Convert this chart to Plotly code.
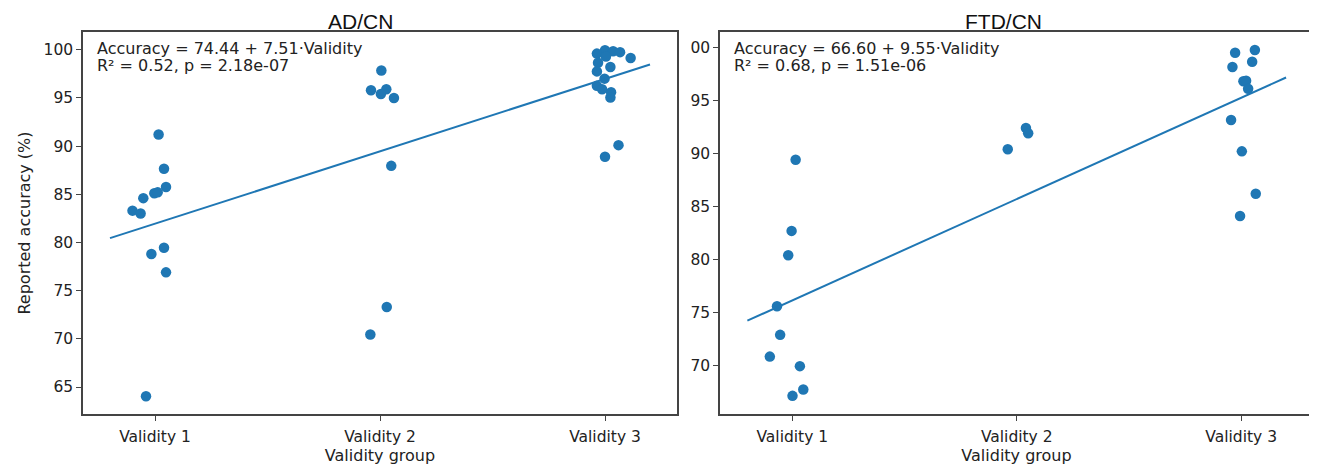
import plotly.graph_objects as go

# ---------------- data ----------------
groups = [1, 2, 3]
group_labels = ["Validity 1", "Validity 2", "Validity 3"]

# AD/CN
ad_v1 = [91.2, 87.65, 85.75, 85.1, 85.2, 84.6, 83.3, 83.0, 79.45, 78.8, 76.9, 64.05]
ad_v1_jit = [0.016, 0.040, 0.049, -0.003, 0.012, -0.052, -0.100, -0.064, 0.040, -0.016, 0.049, -0.040]
ad_v2 = [97.85, 95.8, 95.9, 95.4, 95.0, 87.95, 73.3, 70.45]
ad_v2_jit = [0.006, -0.040, 0.028, 0.004, 0.062, 0.050, 0.030, -0.043]
ad_v3 = [99.95, 99.6, 99.85, 99.75, 99.15, 98.65, 98.2, 97.75, 97.0, 96.25, 95.9, 95.6, 95.05, 99.3, 88.9, 90.1]
ad_v3_jit = [0.000, -0.036, 0.036, 0.067, 0.114, -0.031, 0.024, -0.036, -0.002, -0.036, -0.013, 0.027, 0.024, 0.004, 0.000, 0.060]
ad_intercept, ad_slope = 74.44, 7.51

# FTD/CN
ftd_v1 = [89.4, 82.7, 80.4, 75.6, 72.9, 70.85, 69.95, 67.75, 67.15]
ftd_v1_jit = [0.015, -0.003, -0.018, -0.068, -0.054, -0.100, 0.034, 0.049, 0.001]
ftd_v2 = [90.4, 92.4, 91.9]
ftd_v2_jit = [-0.040, 0.041, 0.051]
ftd_v3 = [99.5, 99.75, 98.15, 98.65, 96.8, 96.85, 96.1, 93.15, 90.2, 86.2, 84.1]
ftd_v3_jit = [-0.027, 0.061, -0.039, 0.049, 0.010, 0.022, 0.031, -0.045, 0.003, 0.065, -0.005]
ftd_intercept, ftd_slope = 66.60, 9.55

fit_x = [0.8, 3.2]

ad_text1 = "Accuracy = 74.44 + 7.51·Validity"
ad_text2 = "R² = 0.52, p = 2.18e-07"
ftd_text1 = "Accuracy = 66.60 + 9.55·Validity"
ftd_text2 = "R² = 0.68, p = 1.51e-06"

yticks = [65, 70, 75, 80, 85, 90, 95, 100]
ad_yticktext = ["65", "70", "75", "80", "85", "90", "95", "100"]
ftd_yticktext = ["65", "70", "75", "80", "85", "90", "95", "00"]

# ---------------- figure ----------------
BLUE = "#1f77b4"
FONT = "DejaVu Sans"
TFONT = "Liberation Sans, Arial, sans-serif"
TXT = "#222222"
SPINE = "#444444"

# page body has an 8px margin; size/position the figure to compensate
OFF = 8
W, H = 1317 - OFF, 465 - OFF


def px(x):
    return (x - OFF) / W


def py(y):
    return 1 - (y - OFF) / H


fig = go.Figure()


def add_panel(vals_list, jit_list, intercept, slope, xa, ya):
    xs, ys = [], []
    for g, vals, jit in zip(groups, vals_list, jit_list):
        for v, j in zip(vals, jit):
            xs.append(g + j)
            ys.append(v)
    fig.add_trace(go.Scatter(x=xs, y=ys, mode="markers",
                             marker=dict(color=BLUE, size=10.5, line=dict(width=0)),
                             xaxis=xa, yaxis=ya, showlegend=False, hoverinfo="skip"))
    fig.add_trace(go.Scatter(x=fit_x, y=[intercept + slope * x for x in fit_x],
                             mode="lines", line=dict(color=BLUE, width=2),
                             xaxis=xa, yaxis=ya, showlegend=False, hoverinfo="skip"))


add_panel([ad_v1, ad_v2, ad_v3], [ad_v1_jit, ad_v2_jit, ad_v3_jit], ad_intercept, ad_slope, "x", "y")
add_panel([ftd_v1, ftd_v2, ftd_v3], [ftd_v1_jit, ftd_v2_jit, ftd_v3_jit], ftd_intercept, ftd_slope, "x2", "y2")

ydom = [py(414), py(32)]

axis_common = dict(showline=True, mirror=True, linecolor=SPINE, linewidth=1.5,
                   ticks="outside", ticklen=5, tickwidth=1.2, tickcolor=SPINE,
                   showgrid=False, zeroline=False,
                   tickfont=dict(family=FONT, size=15.5, color=TXT), automargin=False)

xtitle_font = dict(family=FONT, size=16, color=TXT)

fig.update_layout(
    width=W, height=H,
    margin=dict(l=0, r=0, t=0, b=0),
    paper_bgcolor="white", plot_bgcolor="white",
    font=dict(family=FONT, color=TXT),
    xaxis=dict(domain=[px(83), px(677)], range=[0.68, 3.32],
               tickvals=groups, ticktext=group_labels, ticklabelstandoff=3,
               title=dict(text="Validity group", font=xtitle_font, standoff=4),
               **axis_common),
    yaxis=dict(domain=ydom, range=[62.2, 101.84], tickvals=yticks, ticktext=ad_yticktext,
               title=dict(text="Reported accuracy (%)", font=xtitle_font, standoff=9),
               **axis_common),
    xaxis2=dict(domain=[px(720), px(1313)], range=[0.678, 3.32], anchor="y2",
                tickvals=groups, ticktext=group_labels, ticklabelstandoff=3,
                title=dict(text="Validity group", font=xtitle_font, standoff=4),
                **axis_common),
    yaxis2=dict(domain=ydom, range=[65.44, 101.45], anchor="x2",
                tickvals=yticks, ticktext=ftd_yticktext, **axis_common),
)

annotations = []
for title, cx in [("AD/CN", 360), ("FTD/CN", 1003)]:
    annotations.append(dict(text=title, xref="paper", yref="paper", x=px(cx), y=py(21),
                            xanchor="center", yanchor="middle", showarrow=False, borderpad=0,
                            font=dict(family=TFONT, size=21, color="#111111")))
for x0, t1, t2 in [(95, ad_text1, ad_text2), (732, ftd_text1, ftd_text2)]:
    annotations.append(dict(text=t1, xref="paper", yref="paper", x=px(x0), y=py(48),
                            xanchor="left", yanchor="middle", showarrow=False,
                            font=dict(family=FONT, size=16, color=TXT)))
    annotations.append(dict(text=t2, xref="paper", yref="paper", x=px(x0), y=py(66),
                            xanchor="left", yanchor="middle", showarrow=False,
                            font=dict(family=FONT, size=16, color=TXT)))
fig.update_layout(annotations=annotations)

fig.write_html("out.html")
